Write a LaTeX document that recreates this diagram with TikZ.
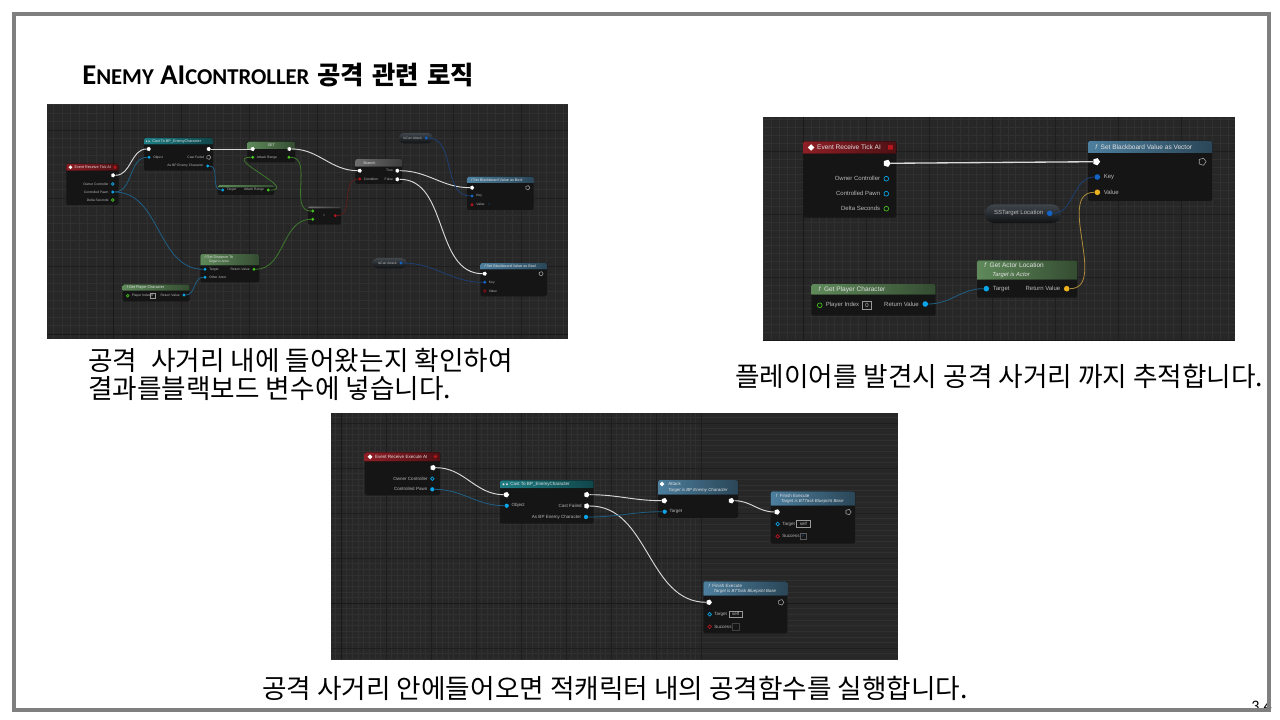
\documentclass[tikz,border=0pt]{standalone}
\usepackage{fontspec}
\setmainfont{Liberation Sans}
\newfontfamily\krfont{Noto Sans CJK KR}
\newfontfamily\capfont{Carlito}
\newfontfamily\symfont{DejaVu Sans}
\usetikzlibrary{shapes.geometric,shapes.misc}

\definecolor{gridbase}{HTML}{272727}
\definecolor{gridfine}{HTML}{303030}
\definecolor{gridmajor}{HTML}{1E1E1E}
\definecolor{bodydark}{HTML}{151515}
\definecolor{framegray}{HTML}{7F7F7F}
\definecolor{hdred}{HTML}{8E1F26}
\definecolor{hdteal}{HTML}{1E7F86}
\definecolor{hdblue}{HTML}{4D7F9E}
\definecolor{hdgreen}{HTML}{5F8A5A}
\definecolor{hdgray}{HTML}{6E6E6E}
\definecolor{pinblue}{HTML}{0AA5E8}
\definecolor{pinkey}{HTML}{1364C8}
\definecolor{pingold}{HTML}{EDB31F}
\definecolor{pingreen}{HTML}{45C21F}
\definecolor{pinred}{HTML}{B5161C}
\definecolor{wireblue}{HTML}{1F5F85}
\definecolor{wirekey}{HTML}{1D3F72}
\definecolor{wiregreen}{HTML}{3E7A2C}
\definecolor{wiregold}{HTML}{AD8C3A}
\definecolor{wirered}{HTML}{5E1E1E}
\definecolor{pilltop}{HTML}{3F464C}
\definecolor{pillend}{HTML}{101214}

% Blueprint box: name, x1, y1, x2, y2, header bottom, header colour, title
\newcommand{\bpbox}[8]{%
    \node[bpbody, anchor=north west, minimum width=(#4-#2)*0.75pt, minimum height=(#5-#3)*0.75pt] (#1) at (#2,#3) {};
    \fill[left color=#7, right color=#7!55!black] (#2,#6) [rounded corners=1.2pt] -- (#2,#3) -- (#4,#3) [sharp corners] -- (#4,#6) -- cycle;
    \node[bptitle] (#1-title) at (#2+\txoff,{(#3+#6)/2}) {#8};
}
% Panel with the editor grid: name, x1, y1, x2, y2, origin x, origin y, major step
\newcommand{\bppanel}[8]{%
    \node[panelbase, anchor=north west, minimum width=(#4-#2)*0.75pt, minimum height=(#5-#3)*0.75pt] (#1) at (#2,#3) {};
    \begin{scope}
        \clip (#2,#3) rectangle (#4,#5);
        \pgfmathsetmacro{\fstep}{#8/8}
        \foreach \k in {-64,...,64} {
            \pgfmathsetmacro{\gx}{#6+\k*\fstep}
            \pgfmathsetmacro{\gy}{#7+\k*\fstep}
            \draw[gridline] (\gx,#3) -- (\gx,#5);
            \draw[gridline] (#2,\gy) -- (#4,\gy);
        }
        \foreach \k in {-8,...,8} {
            \pgfmathsetmacro{\gx}{#6+\k*#8}
            \pgfmathsetmacro{\gy}{#7+\k*#8}
            \draw[gridbold] (\gx,#3) -- (\gx,#5);
            \draw[gridbold] (#2,\gy) -- (#4,\gy);
        }
        \draw[gridblack] (#6,#3) -- (#6,#5);
        \draw[gridblack] (#2,#7) -- (#4,#7);
    \end{scope}
}

\begin{document}
\begin{tikzpicture}[
                x=0.75pt,
                y=-0.75pt,
                panelbase/.style={fill=gridbase, inner sep=0pt, outer sep=0pt},
                gridline/.style={draw=gridfine, line width=0.3pt},
                gridbold/.style={draw=gridmajor, line width=0.35pt},
                gridblack/.style={draw=black!90, line width=0.5pt},
                bpbody/.style={fill=bodydark, rounded corners=1.2pt, inner sep=0pt, outer sep=0pt},
                bptitle/.style={anchor=west, align=left, inner sep=0pt, text=white!88!black, font=\titlefont},
                lbl/.style={text=white!72!black, font=\lblfont, inner sep=0pt, label distance=\lbldist},
                execpin/.style={regular polygon, regular polygon sides=5, shape border rotate=-90, fill=white, inner sep=0pt, minimum size=1.35*\pinsz},
                execout/.style={regular polygon, regular polygon sides=5, shape border rotate=-90, draw=white!65!black, line width=0.4pt, inner sep=0pt, minimum size=1.35*\pinsz},
                datapin/.style={circle, fill=#1, inner sep=0pt, minimum size=\pinsz},
                holepin/.style={circle, draw=#1, line width=0.5pt, inner sep=0pt, minimum size=0.85*\pinsz},
                evticon/.style={diamond, fill=white, inner sep=0pt, minimum size=1.2*\pinsz},
                evtstop/.style={rectangle, fill=pinred, rounded corners=0.4pt, inner sep=0pt, minimum size=0.85*\pinsz},
                castdot/.style={circle, fill=white!85!black, inner sep=0pt, minimum size=0.5*\pinsz},
                valbox/.style={draw=white!60!black, line width=0.3pt, inner sep=0.4pt, minimum height=1.55*\pinsz, minimum width=1.55*\pinsz, text=white!75!black, font=\lblfont},
                varpill/.style={rounded rectangle, top color=pilltop, bottom color=pillend, inner sep=0pt},
                wirew/.style={draw=white!85!black, line width=0.7pt},
                wireb/.style={draw=wireblue, line width=0.6pt},
                wirek/.style={draw=wirekey, line width=0.6pt},
                wireg/.style={draw=wiregreen, line width=0.6pt},
                wirey/.style={draw=wiregold, line width=0.6pt},
                wirer/.style={draw=wirered, line width=0.6pt},
                capt/.style={anchor=west, inner sep=0pt, text=black, font=\krfont\fontsize{20}{24}\selectfont}
            ]
                \useasboundingbox (0,0) rectangle (1280,720);
                \fill[white] (0,0) rectangle (1280,720);

                % --- Title and captions ---
                \node[anchor=west, inner sep=0pt] (title) at (82,75) {\bfseries\capfont\fontsize{21.5}{24}\selectfont E{\fontsize{17}{24}\selectfont NEMY} AI{\fontsize{17}{24}\selectfont CONTROLLER}\hspace{6pt}{\krfont\fontsize{19}{24}\selectfont 공격\hspace{2pt} 관련\hspace{2pt} 로직}};
                \node[capt] (capta) at (88,360) {공격\hspace{6pt} 사거리 내에 들어왔는지 확인하여};
                \node[capt] (captb) at (88,388.5) {결과를블랙보드 변수에 넣습니다.};
                \node[capt] (captc) at (735,376) {플레이어를 발견시 공격 사거리 까지 추적합니다.};
                \node[capt] (captd) at (262,688) {공격 사거리 안에들어오면 적캐릭터 내의 공격함수를 실행합니다.};

                % --- Panel 1: tick, range check ---
                \begin{scope}
                \def\pinsz{2.4pt}
                \def\txoff{4}
                \def\lbldist{1.6pt}
                \def\titlefont{\fontsize{2.8}{3.3}\selectfont}
                \def\notefont{\fontsize{2.4}{2.8}\selectfont\itshape}
                \def\lblfont{\fontsize{2.5}{3}\selectfont}
                \bppanel{panela}{47}{104}{568}{339}{113}{334}{68}

                \bpbox{tick}{66.3}{164}{118.7}{205}{170.7}{hdred}{\hspace{3pt}Event Receive Tick AI}
                \node[evticon] (tick-icon) at (70.5,167.3) {};
                \node[evtstop] (tick-stop) at (115,167.3) {};
                \node[execpin] (tick-ex) at (113,175.3) {};
                \node[holepin=pinblue, label={[lbl]left:Owner Controller}] (tick-own) at (112.7,184) {};
                \node[datapin=pinblue, label={[lbl]left:Controlled Pawn}] (tick-pawn) at (112.7,192) {};
                \node[holepin=pingreen, label={[lbl]left:Delta Seconds}] (tick-dt) at (112.7,200) {};

                \bpbox{cast}{144}{138}{213}{170.7}{144.3}{hdteal}{\hspace{3pt}Cast To BP\_EnemyCharacter}
                \node[castdot] (cast-dot) at (146.5,141.2) {};
                \node[castdot] (cast-dotb) at (149,141.2) {};
                \node[execpin] (cast-in) at (148.7,149) {};
                \node[datapin=pinblue, label={[lbl]right:Object}] (cast-obj) at (149,157.3) {};
                \node[execpin] (cast-out) at (208.7,149) {};
                \node[execout, label={[lbl]left:Cast Failed}] (cast-fail) at (208.7,157.3) {};
                \node[datapin=pinblue, label={[lbl]left:As BP Enemy Character}] (cast-as) at (207.7,166) {};

                \bpbox{setr}{247.3}{141.7}{295.3}{162.3}{149}{hdgreen}{}
                \node[bptitle, anchor=center] (setr-name) at (271.3,145.3) {SET};
                \node[execpin] (setr-in) at (252.7,149) {};
                \node[execpin] (setr-out) at (289.3,149) {};
                \node[datapin=pingreen, label={[lbl]right:Attack Range}] (setr-val) at (252.7,157.3) {};
                \node[datapin=pingreen] (setr-get) at (289,157.3) {};

                \bpbox{getr}{217.7}{185}{274.3}{195}{187.5}{hdgreen}{}
                \node[datapin=pinblue, label={[lbl]right:Target}] (getr-tg) at (222.7,190) {};
                \node[datapin=pingreen, label={[lbl]left:Attack Range}] (getr-val) at (268.3,190) {};

                \bpbox{dist}{200.3}{254}{259.3}{282.3}{265.3}{hdgreen}{{\itshape f}\ Get Distance To\\{\notefont \hspace{3pt}Target is Actor}}
                \node[datapin=pinblue, label={[lbl]right:Target}] (dist-tg) at (205,269.3) {};
                \node[datapin=pinblue, label={[lbl]right:Other Actor}] (dist-oth) at (205,277.3) {};
                \node[datapin=pingreen, label={[lbl]left:Return Value}] (dist-ret) at (254,269.3) {};

                \bpbox{plyr}{122.7}{284.3}{189.7}{301.3}{290.7}{hdgreen}{{\itshape f}\ Get Player Character}
                \node[holepin=pingreen, label={[lbl]right:Player Index}] (plyr-idx) at (127.7,295.7) {};
                \node[valbox] (plyr-box) at (152.3,295.7) {0};
                \node[datapin=pinblue, label={[lbl]left:Return Value}] (plyr-ret) at (184,295) {};

                \bpbox{cmpr}{308}{206.3}{341}{224.7}{208.5}{hdgray}{}
                \node[datapin=pingreen] (cmpr-a) at (312.7,211) {};
                \node[datapin=pingreen] (cmpr-b) at (312.7,219.3) {};
                \node[lbl] (cmpr-op) at (324,215.7) {>};
                \node[datapin=pinred] (cmpr-out) at (335.3,215.7) {};

                \bpbox{brch}{355.3}{159}{402.3}{184}{166.7}{hdgray}{\hspace{3pt}Branch}
                \node[execpin] (brch-in) at (359.7,170.7) {};
                \node[datapin=pinred, label={[lbl]right:Condition}] (brch-cnd) at (359.7,179) {};
                \node[execpin, label={[lbl]left:True}] (brch-t) at (397.3,170.7) {};
                \node[execpin, label={[lbl]left:False}] (brch-f) at (397.3,179.3) {};

                \node[varpill, minimum width=25.8pt, minimum height=7.7pt] (vara) at (415.8,138.2) {};
                \node[datapin=pinkey, label={[lbl]left:IsCan Attack}] (vara-pin) at (426.3,138) {};
                \node[varpill, minimum width=26.2pt, minimum height=7.7pt] (varb) at (389.5,263.2) {};
                \node[datapin=pinkey, label={[lbl]left:IsCan Attack}] (varb-pin) at (401,263) {};

                \bpbox{seta}{467}{176.7}{533.7}{210}{183}{hdblue}{{\itshape f}\ Set Blackboard Value as Bool}
                \node[execpin] (seta-in) at (472,187.7) {};
                \node[execout] (seta-out) at (527.7,187.7) {};
                \node[datapin=pinkey, label={[lbl]right:Key}] (seta-key) at (472,196) {};
                \node[datapin=pinred, label={[lbl]right:Value}] (seta-val) at (472,204.7) {};
                \node[font=\lblfont, text=pinkey, inner sep=0pt] (seta-chk) at (489.3,204.7) {\symfont ✓};

                \bpbox{setb}{480.3}{263}{547}{296.3}{269.3}{hdblue}{{\itshape f}\ Set Blackboard Value as Bool}
                \node[execpin] (setb-in) at (484.7,273.7) {};
                \node[execout] (setb-out) at (541,273.7) {};
                \node[datapin=pinkey, label={[lbl]right:Key}] (setb-key) at (484.7,282.3) {};
                \node[holepin=pinred!70!black, label={[lbl]right:Value}] (setb-val) at (484.7,291) {};

                \draw[wirew] (tick-ex) to[out=0,in=180] (cast-in);
                \draw[wireb] (tick-pawn) to[out=0,in=180] (cast-obj);
                \draw[wireb] (tick-pawn) to[out=0,in=180] (dist-tg);
                \draw[wireb] (plyr-ret) to[out=0,in=180] (dist-oth);
                \draw[wirew] (cast-out) -- (setr-in);
                \draw[wireb] (cast-as) to[out=0,in=180] (getr-tg);
                \draw[wireg] (getr-val) to[out=0,in=180,looseness=2] (setr-val);
                \draw[wireg] (setr-get) to[out=0,in=180] (cmpr-a);
                \draw[wireg] (dist-ret) to[out=0,in=180] (cmpr-b);
                \draw[wirew] (setr-out) to[out=0,in=180] (brch-in);
                \draw[wirer] (cmpr-out) to[out=0,in=180] (brch-cnd);
                \draw[wirew] (brch-t) to[out=0,in=180] (seta-in);
                \draw[wirew] (brch-f) to[out=0,in=180] (setb-in);
                \draw[wirek] (vara-pin) to[out=0,in=180] (seta-key);
                \draw[wirek] (varb-pin) to[out=0,in=180] (setb-key);
                \end{scope}

                % --- Panel 2: chase target ---
                \begin{scope}
                \def\pinsz{4.2pt}
                \def\txoff{7}
                \def\lbldist{2.4pt}
                \def\titlefont{\fontsize{4.9}{5.9}\selectfont}
                \def\notefont{\fontsize{4.4}{5.3}\selectfont\itshape}
                \def\lblfont{\fontsize{4.5}{5.4}\selectfont}
                \bppanel{panelb}{763}{117}{1235}{341}{803}{340}{63}

                \bpbox{evnt}{803}{141.3}{896.3}{217.7}{153.7}{hdred}{\hspace{5.2pt}Event Receive Tick AI}
                \node[evticon] (evnt-icon) at (811,147.5) {};
                \node[evtstop] (evnt-stop) at (890.5,147.3) {};
                \node[execpin] (evnt-ex) at (887,163.3) {};
                \node[holepin=pinblue, label={[lbl]left:Owner Controller}] (evnt-own) at (886.3,178.7) {};
                \node[holepin=pinblue, label={[lbl]left:Controlled Pawn}] (evnt-pawn) at (886.3,193.7) {};
                \node[holepin=pingreen, label={[lbl]left:Delta Seconds}] (evnt-dt) at (886.3,208.7) {};

                \bpbox{setv}{1088}{141}{1212.3}{201}{153}{hdblue}{{\itshape f}\ \ Set Blackboard Value as Vector}
                \node[execpin] (setv-in) at (1096.3,161.7) {};
                \node[execout] (setv-out) at (1202.3,161.7) {};
                \node[datapin=pinkey, label={[lbl]right:Key}] (setv-key) at (1097.3,177) {};
                \node[datapin=pingold, label={[lbl]right:Value}] (setv-val) at (1097.3,192.3) {};

                \node[varpill, minimum width=57pt, minimum height=14pt] (varc) at (1023,213.7) {};
                \node[datapin=pinkey, label={[lbl]left:SSTarget Location}] (varc-pin) at (1049.7,213.3) {};

                \bpbox{aloc}{977}{260.3}{1077.3}{297.7}{279.7}{hdgreen}{{\itshape f}\ \ Get Actor Location\\[1pt]{\notefont \hspace{6pt}Target is Actor}}
                \node[datapin=pinblue, label={[lbl]right:Target}] (aloc-tg) at (986.3,288.7) {};
                \node[datapin=pingold, label={[lbl]left:Return Value}] (aloc-ret) at (1066.7,288.7) {};

                \bpbox{gplr}{811.3}{284}{935.7}{315.7}{294.7}{hdgreen}{{\itshape f}\ \ Get Player Character}
                \node[holepin=pingreen, label={[lbl]right:Player Index}] (gplr-idx) at (819.7,305.3) {};
                \node[valbox] (gplr-box) at (867,305.3) {0};
                \node[datapin=pinblue, label={[lbl]left:Return Value}] (gplr-ret) at (925.3,304) {};

                \draw[wirew, line width=1pt] (evnt-ex) -- (setv-in);
                \draw[wirek] (varc-pin) to[out=0,in=180] (setv-key);
                \draw[wirey] (aloc-ret) to[out=0,in=180] (setv-val);
                \draw[wireb] (gplr-ret) to[out=0,in=180] (aloc-tg);
                \end{scope}

                % --- Panel 3: attack ---
                \begin{scope}
                \def\pinsz{3.2pt}
                \def\txoff{5}
                \def\lbldist{1.7pt}
                \def\titlefont{\fontsize{3.4}{4}\selectfont}
                \def\notefont{\fontsize{3.3}{3.9}\selectfont\itshape}
                \def\lblfont{\fontsize{3.4}{4}\selectfont}
                \bppanel{panelc}{331}{413}{898}{660}{341}{603}{45}

                \bpbox{exec}{364.7}{452.3}{440}{495.3}{461.3}{hdred}{\hspace{3.8pt}Event Receive Execute AI}
                \node[evticon] (exec-icon) at (370,456.8) {};
                \node[circle, fill=pinred, inner sep=0pt, minimum size=2.8pt] (exec-stop) at (435.5,456.5) {};
                \node[execpin] (exec-ex) at (433,467.7) {};
                \node[holepin=pinblue, label={[lbl]left:Owner Controller}] (exec-own) at (432.3,478.7) {};
                \node[datapin=pinblue, label={[lbl]left:Controlled Pawn}] (exec-pawn) at (432.3,489.3) {};

                \bpbox{ecast}{500}{480.3}{593.7}{523.7}{488}{hdteal}{\hspace{3.8pt}Cast To BP\_EnemyCharacter}
                \node[castdot] (ecast-dot) at (503.5,484.2) {};
                \node[castdot] (ecast-dotb) at (507,484.2) {};
                \node[execpin] (ecast-in) at (506.3,494.7) {};
                \node[datapin=pinblue, label={[lbl]right:Object}] (ecast-obj) at (506.7,505.7) {};
                \node[execpin] (ecast-out) at (586.7,494.7) {};
                \node[execpin, label={[lbl]left:Cast Failed}] (ecast-fail) at (586.7,506) {};
                \node[datapin=pinblue, label={[lbl]left:As BP Enemy Character}] (ecast-as) at (586,517) {};

                \bpbox{atck}{658}{480}{738}{518}{494.7}{hdblue}{\hspace{3.8pt}Attack\\{\notefont \hspace{3.8pt}Target is BP Enemy Character}}
                \node[evticon] (atck-icon) at (662,484) {};
                \node[execpin] (atck-in) at (664.3,500.7) {};
                \node[execpin] (atck-out) at (731.3,500.7) {};
                \node[datapin=pinblue, label={[lbl]right:Target}] (atck-tg) at (664.7,511.7) {};

                \bpbox{fina}{770.7}{491.3}{855}{543.7}{505.7}{hdblue}{{\itshape f}\ \ Finish Execute\\{\notefont \hspace{3.8pt}Target is BTTask Blueprint Base}}
                \node[execpin] (fina-in) at (777,512) {};
                \node[execout] (fina-out) at (848.3,512) {};
                \node[holepin=pinblue, label={[lbl]right:Target}] (fina-tg) at (777.7,524) {};
                \node[valbox, minimum width=10pt] (fina-box) at (803.3,524) {self};
                \node[holepin=pinred, label={[lbl]right:Success}] (fina-ok) at (777.7,536.3) {};
                \node[valbox, text=pinkey, draw=white!35!black] (fina-chk) at (803.3,536.3) {\symfont ✓};

                \bpbox{finb}{703.3}{581.3}{787.3}{633.3}{595.7}{hdblue}{{\itshape f}\ \ Finish Execute\\{\notefont \hspace{3.8pt}Target is BTTask Blueprint Base}}
                \node[execpin] (finb-in) at (709,602.3) {};
                \node[execout] (finb-out) at (781,602.3) {};
                \node[holepin=pinblue, label={[lbl]right:Target}] (finb-tg) at (709.7,614.3) {};
                \node[valbox, minimum width=10pt] (finb-box) at (735.7,614.3) {self};
                \node[holepin=pinred, label={[lbl]right:Success}] (finb-ok) at (709.7,626.7) {};
                \node[valbox, draw=white!25!black] (finb-chk) at (735.7,626.7) {};

                \draw[wirew] (exec-ex) to[out=0,in=180] (ecast-in);
                \draw[wireb] (exec-pawn) to[out=0,in=180] (ecast-obj);
                \draw[wirew] (ecast-out) to[out=0,in=180] (atck-in);
                \draw[wirew] (ecast-fail) to[out=0,in=180] (finb-in);
                \draw[wireb] (ecast-as) to[out=0,in=180] (atck-tg);
                \draw[wirew] (atck-out) to[out=0,in=180] (fina-in);
                \end{scope}

                % --- Page number under the slide frame ---
                \node[inner sep=0pt, font=\capfont\fontsize{12}{14}\selectfont] (pageno) at (1261.5,706) {3\hspace{3pt}4};
                \node[draw=framegray, line width=3pt, anchor=north west, minimum width=941.25pt, minimum height=522pt, inner sep=0pt] (frame) at (12,12) {};

            \end{tikzpicture}
\end{document}
